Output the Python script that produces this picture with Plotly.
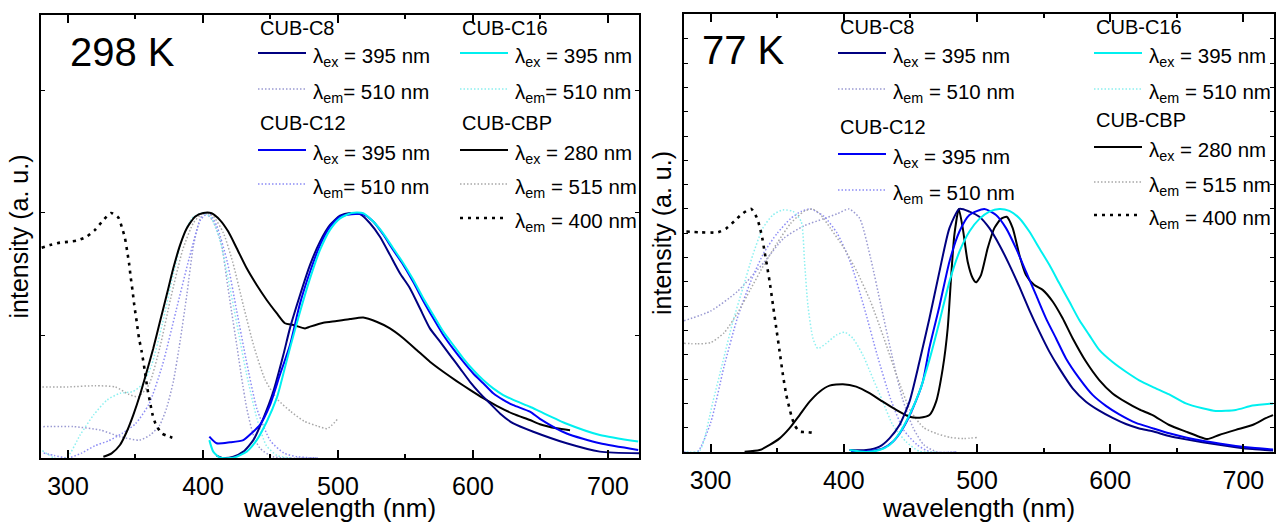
import plotly.graph_objects as go

# ---------------- DATA: 298 K panel ----------------
c8_ex_298_x = [410, 415, 422.5, 429.9, 437.3, 444.7, 452.1, 459.5, 464.4, 471.9, 479.3, 486.7, 494.1, 501.5, 508.9, 516.3, 523.7, 531.1, 538.5, 545.9, 553.3, 560.7, 568.1, 575.6, 583, 590.4, 597.8, 605.2, 612.6, 620, 629.9, 644.7, 669.4, 694, 723.7]
c8_ex_298_y = [0.01, 0.0, 0.005, 0.026, 0.073, 0.162, 0.271, 0.42, 0.529, 0.665, 0.788, 0.883, 0.951, 0.989, 1.0, 0.995, 0.958, 0.903, 0.829, 0.754, 0.693, 0.611, 0.529, 0.475, 0.42, 0.366, 0.311, 0.264, 0.223, 0.182, 0.141, 0.107, 0.06, 0.026, 0.019]

c12_ex_298_x = [404.7, 410.1, 420, 429.9, 436, 442.2, 449.6, 457, 464.4, 471.9, 479.3, 486.7, 494.1, 501.5, 510.1, 518.7, 526.1, 533.5, 540.9, 548.4, 555.8, 563.2, 570.6, 578, 585.4, 592.8, 600.2, 607.6, 615, 622.4, 629.9, 642.2, 649.6, 669.4, 694, 722.4]
c12_ex_298_y = [0.087, 0.06, 0.064, 0.073, 0.101, 0.135, 0.216, 0.34, 0.46, 0.631, 0.76, 0.869, 0.944, 0.985, 0.995, 0.995, 0.965, 0.912, 0.849, 0.788, 0.718, 0.641, 0.57, 0.502, 0.445, 0.393, 0.345, 0.305, 0.264, 0.237, 0.216, 0.189, 0.16, 0.1, 0.06, 0.033]

c16_ex_298_x = [404.7, 407.6, 412.6, 422.5, 432.4, 439.8, 447.2, 454.6, 457, 464.4, 471.9, 479.3, 486.7, 494.1, 501.5, 510.1, 518.7, 526.1, 533.5, 540.9, 548.4, 555.8, 563.2, 570.6, 578, 585.4, 592.8, 600.2, 607.6, 615, 622.4, 629.9, 642.2, 649.6, 669.4, 694, 722.4]
c16_ex_298_y = [0.073, 0.026, 0.001, 0.001, 0.026, 0.073, 0.148, 0.244, 0.29, 0.448, 0.597, 0.733, 0.849, 0.931, 0.978, 1.0, 0.999, 0.965, 0.917, 0.856, 0.795, 0.727, 0.652, 0.584, 0.516, 0.461, 0.407, 0.359, 0.318, 0.284, 0.257, 0.237, 0.209, 0.19, 0.14, 0.094, 0.067]

cbp_ex_298_x = [326.2, 332.3, 338.5, 343.5, 348.4, 353.3, 358.3, 363.2, 368.1, 373.1, 378, 383, 387.9, 394.1, 400.2, 406.4, 412.6, 418.7, 425, 432.4, 439.8, 447.2, 454.6, 460.7, 466.9, 475.6, 479.3, 489.1, 499, 508.9, 518.7, 528.6, 538.5, 548.4, 558.3, 568.1, 578, 587.9, 597.8, 607.6, 617.6, 629.9, 642.2, 649.6, 662, 671.9]
cbp_ex_298_y = [0.005, 0.019, 0.053, 0.107, 0.176, 0.257, 0.352, 0.448, 0.556, 0.665, 0.774, 0.869, 0.937, 0.985, 1.0, 0.999, 0.971, 0.924, 0.856, 0.774, 0.706, 0.645, 0.591, 0.55, 0.543, 0.529, 0.536, 0.552, 0.559, 0.567, 0.573, 0.556, 0.529, 0.489, 0.441, 0.393, 0.352, 0.314, 0.278, 0.244, 0.213, 0.18, 0.155, 0.138, 0.121, 0.113]

c8_em_298_x = [281.7, 304, 324, 338.5, 353, 361, 368, 373, 378, 383, 388, 393, 398, 401.5, 407.6, 413.8, 417.5, 421.2, 425, 428.7, 432.4, 437.3, 442.2, 452, 485]
c8_em_298_y = [0.128, 0.128, 0.114, 0.087, 0.073, 0.094, 0.135, 0.203, 0.311, 0.475, 0.665, 0.869, 0.978, 1.0, 0.965, 0.869, 0.733, 0.597, 0.461, 0.325, 0.203, 0.094, 0.04, 0.005, 0.0]

c12_em_298_x = [282, 290, 300, 310, 320, 330, 340, 350, 360, 370, 380, 390, 398, 404, 410, 418, 425, 432, 440, 450, 460, 470, 485]
c12_em_298_y = [0.02, 0.01, 0.0, 0.02, 0.05, 0.07, 0.1, 0.14, 0.22, 0.38, 0.6, 0.82, 0.97, 1.0, 0.95, 0.8, 0.6, 0.4, 0.2, 0.07, 0.02, 0.005, 0.0]

c16_em_298_x = [281, 290, 299, 309, 319, 329, 338.5, 348, 355, 362, 370, 378, 385, 392, 400, 406, 412, 418, 425, 432, 440, 447, 455, 465]
c16_em_298_y = [0.03, 0.0, 0.0, 0.094, 0.176, 0.237, 0.264, 0.271, 0.3, 0.38, 0.55, 0.75, 0.9, 0.98, 1.0, 0.98, 0.9, 0.75, 0.55, 0.35, 0.16, 0.05, 0.01, 0.0]

cbp_em515_298_x = [281, 300, 320, 335, 345, 352, 360, 368, 376, 385, 393, 400, 407, 415, 422, 430, 438, 446, 455, 465, 475, 485, 492, 500]
cbp_em515_298_y = [0.29, 0.29, 0.295, 0.29, 0.26, 0.25, 0.3, 0.45, 0.65, 0.85, 0.96, 1.0, 0.99, 0.92, 0.8, 0.62, 0.45, 0.32, 0.24, 0.19, 0.15, 0.13, 0.12, 0.16]

cbp_em400_298_x = [280.5, 286.7, 294.1, 301.5, 306.4, 313.8, 320, 326.2, 331.9, 337.3, 339.8, 342.2, 343.9, 345.4, 346.4, 347.9, 349.1, 350.9, 352.6, 354.6, 357, 358.8, 360.7, 362.7, 365.2, 369.4, 373.1, 377.3]
cbp_em400_298_y = [0.858, 0.869, 0.879, 0.883, 0.887, 0.903, 0.931, 0.971, 1.0, 0.981, 0.944, 0.897, 0.842, 0.788, 0.74, 0.679, 0.624, 0.556, 0.489, 0.434, 0.352, 0.284, 0.23, 0.176, 0.135, 0.101, 0.091, 0.083]

# ---------------- DATA: 77 K panel ----------------
c8_ex_77_x = [404.3, 416.8, 426.8, 434.3, 441.8, 449.3, 456.8, 464.3, 471.8, 479.3, 486.8, 494.3, 501.8, 509.3, 516.8, 524.3, 531.8, 539.3, 546.8, 554.3, 561.8, 571.8, 581.8, 591.8, 601.8, 611.8, 621.8, 631.8, 644.3, 656.8, 669.3, 681.8, 694.3, 706.8, 722.3]
c8_ex_77_y = [0.008, 0.008, 0.022, 0.056, 0.111, 0.207, 0.372, 0.55, 0.742, 0.921, 1.0, 0.989, 0.968, 0.921, 0.852, 0.77, 0.68, 0.584, 0.495, 0.413, 0.344, 0.262, 0.207, 0.17, 0.14, 0.115, 0.097, 0.085, 0.066, 0.052, 0.04, 0.03, 0.02, 0.012, 0.006]

c12_ex_77_x = [405.5, 419.3, 429.3, 436.8, 444.3, 451.8, 459.3, 464.3, 471.8, 479.3, 486.8, 494.3, 505.5, 514.3, 521.8, 529.3, 536.8, 544.3, 551.8, 559.3, 566.8, 576.8, 586.8, 596.8, 606.8, 619.3, 631.8, 644.3, 656.8, 669.3, 681.8, 694.3, 706.8, 722.3]
c12_ex_77_y = [0.0, 0.004, 0.015, 0.042, 0.097, 0.18, 0.289, 0.43, 0.6, 0.783, 0.907, 0.975, 1.0, 0.975, 0.921, 0.838, 0.742, 0.646, 0.55, 0.468, 0.385, 0.303, 0.235, 0.19, 0.155, 0.12, 0.098, 0.077, 0.06, 0.046, 0.035, 0.025, 0.017, 0.01]

c16_ex_77_x = [404.3, 416.8, 426.8, 434.3, 441.8, 449.3, 456.8, 464.3, 471.8, 479.3, 486.8, 494.3, 501.8, 509.3, 516.8, 524.3, 531.8, 539.3, 546.8, 554.3, 561.8, 569.3, 576.8, 584.3, 591.8, 601.8, 611.8, 621.8, 631.8, 644.3, 656.8, 669.3, 679.3, 694.3, 706.8, 722.3]
c16_ex_77_y = [0.008, 0.0, 0.008, 0.029, 0.077, 0.152, 0.248, 0.38, 0.536, 0.701, 0.824, 0.907, 0.959, 0.989, 1.0, 0.992, 0.962, 0.907, 0.838, 0.77, 0.694, 0.619, 0.543, 0.481, 0.42, 0.37, 0.33, 0.295, 0.268, 0.237, 0.2, 0.18, 0.169, 0.173, 0.191, 0.2]

cbp_ex_77_x = [325.5, 336.8, 344.3, 351.8, 359.3, 366.8, 374.3, 381.8, 389.3, 399.3, 409.3, 419.3, 429.3, 439.3, 449.3, 456.8, 464.3, 469.3, 474.3, 478, 480.5, 483, 486.3, 489.3, 493, 496.8, 499.3, 503, 508, 513, 518, 522.3, 526.8, 531.8, 536.8, 543, 549.3, 556.8, 564.3, 571.8, 581.8, 591.8, 601.8, 611.8, 621.8, 631.8, 644.3, 656.8, 666.8, 673, 681.8, 694.3, 706.8, 716.8, 722.3]
cbp_ex_77_y = [0.001, 0.008, 0.029, 0.056, 0.098, 0.152, 0.207, 0.248, 0.273, 0.279, 0.269, 0.242, 0.207, 0.173, 0.145, 0.141, 0.152, 0.207, 0.344, 0.509, 0.715, 0.893, 1.0, 0.921, 0.783, 0.715, 0.698, 0.728, 0.838, 0.921, 0.959, 0.968, 0.921, 0.811, 0.728, 0.687, 0.667, 0.619, 0.55, 0.468, 0.372, 0.296, 0.241, 0.205, 0.175, 0.152, 0.111, 0.084, 0.063, 0.053, 0.07, 0.091, 0.111, 0.139, 0.152]

c8_em_77_x = [280, 300, 320, 340, 355, 370, 385, 395, 404, 412, 420, 428, 436, 444, 452, 460, 470, 485]
c8_em_77_y = [0.54, 0.58, 0.66, 0.78, 0.88, 0.93, 0.96, 0.98, 1.0, 0.96, 0.8, 0.6, 0.4, 0.22, 0.1, 0.03, 0.0, 0.0]

c12_em_77_x = [280, 290, 300, 310, 320, 330, 340, 350, 360, 368, 375, 385, 395, 405, 415, 425, 435, 445, 455, 465, 485]
c12_em_77_y = [0.0, 0.0, 0.12, 0.35, 0.55, 0.7, 0.82, 0.9, 0.96, 0.99, 1.0, 0.97, 0.9, 0.78, 0.6, 0.4, 0.22, 0.09, 0.03, 0.0, 0.0]

c16_em_77_x = [281.8, 291.7, 301.7, 309.2, 316.7, 324.2, 331.7, 339.2, 346.7, 354.2, 361.8, 368, 370.5, 373, 376.8, 380.5, 386.8, 394.3, 400.5, 406.8, 414.3, 421.8, 429.3, 436.8, 446.8, 456.8, 470]
c16_em_77_y = [0.0, 0.005, 0.207, 0.372, 0.536, 0.674, 0.811, 0.921, 0.975, 0.996, 0.99, 0.948, 0.783, 0.605, 0.468, 0.426, 0.447, 0.481, 0.493, 0.468, 0.399, 0.303, 0.207, 0.111, 0.042, 0.003, 0.0]

cbp_em515_77_x = [280, 290, 300, 310, 320, 330, 340, 350, 360, 370, 376, 382, 390, 400, 410, 420, 430, 440, 450, 460, 470, 480, 490, 500]
cbp_em515_77_y = [0.447, 0.445, 0.45, 0.49, 0.57, 0.67, 0.77, 0.86, 0.94, 0.99, 1.0, 0.98, 0.92, 0.84, 0.74, 0.62, 0.47, 0.31, 0.17, 0.1, 0.075, 0.06, 0.055, 0.06]

cbp_em400_77_x = [281.8, 291.7, 305.5, 311.8, 318, 324.2, 330.5, 334.7, 336.8, 338.8, 340.5, 342.2, 344.3, 346.8, 349.3, 351.8, 354.3, 356.8, 360.5, 363, 366.8, 373, 378.8]
cbp_em400_77_y = [0.907, 0.904, 0.904, 0.92, 0.951, 0.982, 1.0, 0.964, 0.927, 0.879, 0.824, 0.77, 0.701, 0.605, 0.509, 0.413, 0.317, 0.235, 0.152, 0.111, 0.084, 0.082, 0.077]

x_ticks = [300, 400, 500, 600, 700]
panel_labels = ["298 K", "77 K"]

# ---------------- STYLE ----------------
W, H = 1276, 523
FONT = "Liberation Sans, Arial, sans-serif"
NAVY, BLUE, CYAN, BLACK = "#000080", "#0000f5", "#00f0f0", "#000000"
P_NAVY, P_BLUE, P_CYAN, P_GRAY = "#9a9ad2", "#8c8cf5", "#8cf0f0", "#a8a8a8"
SOLID = dict(width=2, dash="solid")
PALE = dict(width=1.5, dash="1.5px,2px")
BDOT = dict(width=2.6, dash="3px,5px")


def px(v):
    return v / W


def py(v):
    return 1 - v / H


fig = go.Figure()

panels = [
    ("x", "y", [
        (c8_em_298_x, c8_em_298_y, P_NAVY, PALE),
        (c12_em_298_x, c12_em_298_y, P_BLUE, PALE),
        (c16_em_298_x, c16_em_298_y, P_CYAN, PALE),
        (cbp_em515_298_x, cbp_em515_298_y, P_GRAY, PALE),
        (cbp_em400_298_x, cbp_em400_298_y, BLACK, BDOT),
        (cbp_ex_298_x, cbp_ex_298_y, BLACK, SOLID),
        (c8_ex_298_x, c8_ex_298_y, NAVY, SOLID),
        (c12_ex_298_x, c12_ex_298_y, BLUE, SOLID),
        (c16_ex_298_x, c16_ex_298_y, CYAN, SOLID),
    ]),
    ("x2", "y2", [
        (c8_em_77_x, c8_em_77_y, P_NAVY, PALE),
        (c12_em_77_x, c12_em_77_y, P_BLUE, PALE),
        (c16_em_77_x, c16_em_77_y, P_CYAN, PALE),
        (cbp_em515_77_x, cbp_em515_77_y, P_GRAY, PALE),
        (cbp_em400_77_x, cbp_em400_77_y, BLACK, BDOT),
        (cbp_ex_77_x, cbp_ex_77_y, BLACK, SOLID),
        (c8_ex_77_x, c8_ex_77_y, NAVY, SOLID),
        (c12_ex_77_x, c12_ex_77_y, BLUE, SOLID),
        (c16_ex_77_x, c16_ex_77_y, CYAN, SOLID),
    ]),
]
for xa, ya, series in panels:
    for xs, ys, col, st in series:
        fig.add_trace(go.Scatter(x=xs, y=ys, mode="lines", xaxis=xa, yaxis=ya,
                                 line=dict(color=col, width=st["width"], dash=st["dash"], shape="spline", smoothing=0.6),
                                 showlegend=False, hoverinfo="skip"))

xcommon = dict(range=[280, 723], tickvals=x_ticks, ticks="inside", ticklen=8, tickwidth=1.5,
               tickcolor="black", minor=dict(dtick=50, tick0=0, ticks="inside", ticklen=4, tickcolor="black"),
               showline=True, linecolor="black", linewidth=1.5, mirror="allticks",
               showgrid=False, zeroline=False, ticklabelstandoff=5,
               tickfont=dict(size=25, color="black", family=FONT),
               title=dict(text="wavelength (nm)", font=dict(size=26, color="black", family=FONT), standoff=0))
ycommon = dict(ticks="inside", ticklen=4, tickwidth=1.2, tickcolor="black", showticklabels=False,
               showline=True, linecolor="black", linewidth=1.5, mirror="allticks",
               showgrid=False, zeroline=False,
               title=dict(text="intensity (a. u.)", font=dict(size=25, color="black", family=FONT), standoff=4))

fig.update_layout(
    width=W, height=H, margin=dict(l=0, r=0, t=0, b=0),
    paper_bgcolor="white", plot_bgcolor="white",
    font=dict(family=FONT, color="black"),
    xaxis=dict(xcommon, domain=[px(41), px(639)], anchor="y"),
    yaxis=dict(ycommon, domain=[py(458), py(15)], range=[0, 1.808], dtick=0.5, tick0=0, anchor="x"),
    xaxis2=dict(xcommon, domain=[px(684), px(1274)], anchor="y2"),
    yaxis2=dict(ycommon, domain=[py(452), py(14)], range=[0, 1.802], dtick=0.1, tick0=0, anchor="x2"),
    showlegend=False,
)

annotations = []
shapes = []


def text(x, y, s, size=20, anchor="left"):
    annotations.append(dict(x=px(x), y=py(y), xref="paper", yref="paper", text=s, showarrow=False,
                            xanchor=anchor, yanchor="middle", font=dict(size=size, family=FONT, color="black")))


def sample(x0, x1, y, col, st):
    shapes.append(dict(type="line", xref="paper", yref="paper", x0=px(x0), x1=px(x1), y0=py(y), y1=py(y),
                       line=dict(color=col, width=st["width"], dash=st["dash"])))


text(68, 52, panel_labels[0], size=40)
text(700, 50, panel_labels[1], size=40)

LEX = "λ<sub>ex</sub> = {} nm"
LEM = "λ<sub>em</sub> = {} nm"
LEM2 = "λ<sub>em</sub>= {} nm"

legend_298 = [
    (258, 28, "CUB-C8", [(53, NAVY, SOLID, LEX.format(395)), (89, P_NAVY, PALE, LEM2.format(510))]),
    (258, 123, "CUB-C12", [(150, BLUE, SOLID, LEX.format(395)), (184, P_BLUE, PALE, LEM2.format(510))]),
    (460, 28, "CUB-C16", [(53, CYAN, SOLID, LEX.format(395)), (89, P_CYAN, PALE, LEM2.format(510))]),
    (460, 123, "CUB-CBP", [(150, BLACK, SOLID, LEX.format(280)), (184, P_GRAY, PALE, LEM.format(515)),
                           (218, BLACK, BDOT, LEM.format(400))]),
]
legend_77 = [
    (838, 27, "CUB-C8", [(53, NAVY, SOLID, LEX.format(395)), (89, P_NAVY, PALE, LEM.format(510))]),
    (838, 127, "CUB-C12", [(154, BLUE, SOLID, LEX.format(395)), (190, P_BLUE, PALE, LEM.format(510))]),
    (1094, 27, "CUB-C16", [(53, CYAN, SOLID, LEX.format(395)), (89, P_CYAN, PALE, LEM.format(510))]),
    (1094, 120, "CUB-CBP", [(147, BLACK, SOLID, LEX.format(280)), (182, P_GRAY, PALE, LEM.format(515)),
                            (215, BLACK, BDOT, LEM.format(400))]),
]
for lg in (legend_298, legend_77):
    for x0, ty, title, rows in lg:
        text(x0, ty, title, size=20)
        for ry, col, st, label in rows:
            sample(x0, x0 + 48, ry, col, st)
            text(x0 + 53, ry + 4, label, size=20.5)

fig.update_layout(annotations=annotations, shapes=shapes)
fig.write_html("out.html", config={"displayModeBar": False},
               post_script="document.body.style.margin='0';document.body.style.overflow='hidden';")
